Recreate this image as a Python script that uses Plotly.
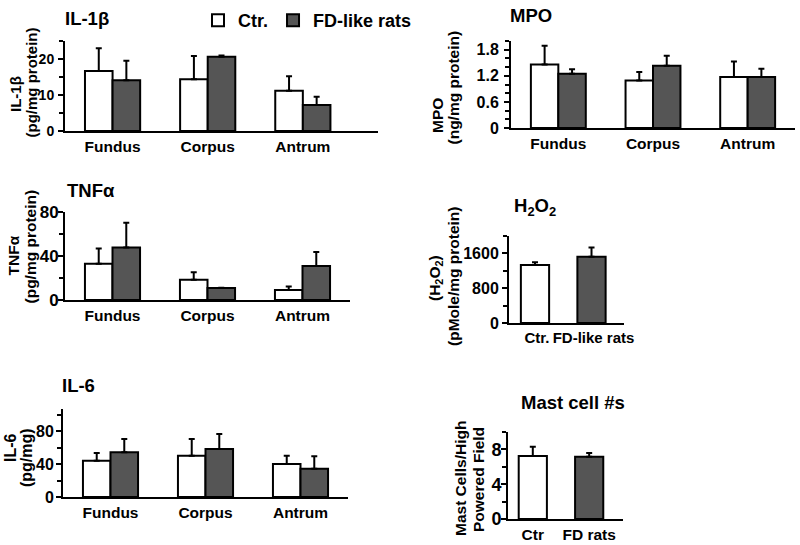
import plotly.graph_objects as go
from plotly.subplots import make_subplots

regions = ["Fundus", "Corpus", "Antrum"]

il1b_ctr = [16.7, 14.4, 11.2]
il1b_ctr_err = [6.3, 6.4, 4.0]
il1b_fd = [14.1, 20.6, 7.2]
il1b_fd_err = [5.4, 0.4, 2.3]

tnf_ctr = [33.0, 18.5, 9.2]
tnf_ctr_err = [13.8, 6.7, 3.1]
tnf_fd = [47.7, 10.8, 30.8]
tnf_fd_err = [22.5, 0.3, 12.9]

il6_ctr = [44.2, 50.3, 40.2]
il6_ctr_err = [9.4, 20.3, 10.1]
il6_fd = [54.3, 58.5, 34.5]
il6_fd_err = [16.3, 18.2, 15.0]

mpo_ctr = [1.46, 1.09, 1.17]
mpo_ctr_err = [0.43, 0.20, 0.36]
mpo_fd = [1.25, 1.43, 1.17]
mpo_fd_err = [0.10, 0.23, 0.19]

h2o2_groups = ["Ctr.", "FD-like rats"]
h2o2_vals = [1333, 1522]
h2o2_err = [61, 215]

mast_groups = ["Ctr", "FD rats"]
mast_vals = [7.23, 7.15]
mast_err = [1.07, 0.45]

W, H = 800, 545
FONT = "Liberation Sans, Arial, sans-serif"
WHITE, GRAY = "#ffffff", "#555555"


def px_x(a, b):
    return [a / W, b / W]


def px_y(top, bottom):
    return [1 - bottom / H, 1 - top / H]


def err(vals):
    return dict(type="data", symmetric=False, array=vals, arrayminus=[0] * len(vals),
                color="black", thickness=2, width=3)


def bold(size):
    return dict(family=FONT, size=size, color="black", weight="bold")


fig = make_subplots(rows=3, cols=2)

bar_line = dict(color="black", width=2)

# grouped panels: (row, col, ctr, ctr_err, fd, fd_err)
grouped = [
    (1, 1, il1b_ctr, il1b_ctr_err, il1b_fd, il1b_fd_err),
    (2, 1, tnf_ctr, tnf_ctr_err, tnf_fd, tnf_fd_err),
    (3, 1, il6_ctr, il6_ctr_err, il6_fd, il6_fd_err),
    (1, 2, mpo_ctr, mpo_ctr_err, mpo_fd, mpo_fd_err),
]
for i, (r, c, cv, ce, fv, fe) in enumerate(grouped):
    fig.add_trace(go.Bar(x=regions, y=cv, name="Ctr.", marker=dict(color=WHITE, line=bar_line),
                         error_y=err(ce), showlegend=(i == 0)), row=r, col=c)
    fig.add_trace(go.Bar(x=regions, y=fv, name="FD-like rats", marker=dict(color=GRAY, line=bar_line),
                         error_y=err(fe), showlegend=(i == 0)), row=r, col=c)

fig.add_trace(go.Bar(x=h2o2_groups, y=h2o2_vals, width=0.5, showlegend=False,
                     marker=dict(color=[WHITE, GRAY], line=bar_line), error_y=err(h2o2_err)),
              row=2, col=2)
fig.add_trace(go.Bar(x=mast_groups, y=mast_vals, width=0.5, showlegend=False,
                     marker=dict(color=[WHITE, GRAY], line=bar_line), error_y=err(mast_err)),
              row=3, col=2)

# axis layout: name -> (x px, y px, y range, dtick, minor dtick, x range, tick size, standoff)
panels = {
    "1": ((65, 378), (41, 131), [0, 25], 10, 5, [-0.5, 2.79], 14, 1),
    "3": ((65, 350), (212, 300), [0, 80], 40, 20, [-0.5, 2.5], 17, -4),
    "5": ((63, 348), (409, 497), [0, 107], 40, 20, [-0.5, 2.5], 16, -1),
    "2": ((511, 795), (41, 128), [0, 2.0], 0.6, 0.2, [-0.5, 2.5], 16, 2),
    "4": ((509, 624), (236, 323), [0, 2000], 800, 400, [-0.46, 1.575], 16, 0),
    "6": ((508, 623), (432, 519), [0, 10], 4, 2, [-0.44, 1.6], 18, -4),
}
for k, (xp, yp, yr, dt, mdt, xr, fs, so) in panels.items():
    xa = "xaxis" if k == "1" else "xaxis" + k
    ya = "yaxis" if k == "1" else "yaxis" + k
    yax = dict(domain=px_y(*yp), range=yr, dtick=dt, tick0=0, showgrid=False, zeroline=False,
               showline=True, linecolor="black", linewidth=2, ticks="outside", ticklen=5,
               tickwidth=2, tickcolor="black", tickfont=bold(fs), automargin=False,
               ticklabelstandoff=so,
               minor=dict(dtick=mdt, tick0=0, ticks="outside", ticklen=4, tickwidth=1.5,
                          tickcolor="black", showgrid=False))
    if k == "2":
        yax["tickvals"] = [0, 0.6, 1.2, 1.8]
        yax["ticktext"] = ["0", "0.6", "1.2", "1.8"]
    fig.layout[ya].update(yax)
    fig.layout[xa].update(dict(domain=px_x(*xp), range=xr, showgrid=False, zeroline=False,
                               showline=True, linecolor="black", linewidth=2, ticks="",
                               tickangle=0, tickfont=bold(15.5), automargin=False))
fig.layout.xaxis4.update(tickfont=bold(15), ticklabelshift=2)

titles = [
    ("IL-1β", 63, 18), ("TNFα", 65, 190), ("IL-6", 60, 385),
    ("MPO", 508, 15), ("H<sub>2</sub>O<sub>2</sub>", 512, 207), ("Mast cell #s", 519, 402),
]
for t, x, y in titles:
    fig.add_annotation(text=t, x=x / W, y=1 - y / H, xref="paper", yref="paper", xanchor="left",
                       yanchor="middle", showarrow=False, font=bold(18.5))

# rotated y-axis labels, one annotation per line: (text, x center, y center, size)
ylabels = [
    ("IL-1β", 15, 94, 15), ("(pg/mg protein)", 31, 82.5, 15),
    ("TNFα", 12.5, 256, 15.5), ("(pg/mg protein)", 30, 246.5, 15.5),
    ("IL-6", 10, 448, 16), ("(pg/mg)", 26, 458, 16),
    ("MPO", 437, 116, 15.5), ("(ng/mg protein)", 453, 87.5, 15.5),
    ("(H<sub>2</sub>O<sub>2</sub>)", 435, 278, 15.5), ("(pMole/mg protein)", 453, 276, 15.5),
    ("Mast Cells/High", 460, 478, 15.5), ("Powered Field", 478, 480, 15.5),
]
for t, x, y, s in ylabels:
    fig.add_annotation(text=t, x=x / W, y=1 - y / H, xref="paper", yref="paper", xanchor="center",
                       yanchor="middle", showarrow=False, textangle=-90, font=bold(s))

fig.update_layout(
    template="none",
    width=W, height=H, margin=dict(l=0, r=0, t=0, b=0, autoexpand=False),
    paper_bgcolor="white", plot_bgcolor="white",
    barmode="group", bargap=0.42, bargroupgap=0,
    legend=dict(orientation="h", x=198 / W, y=1 - 2 / H, xanchor="left", yanchor="top",
                font=bold(18), bgcolor="rgba(0,0,0,0)", itemclick=False),
)

fig.write_html("out.html", config={"displayModeBar": False},
               post_script="document.body.style.margin='0';")
